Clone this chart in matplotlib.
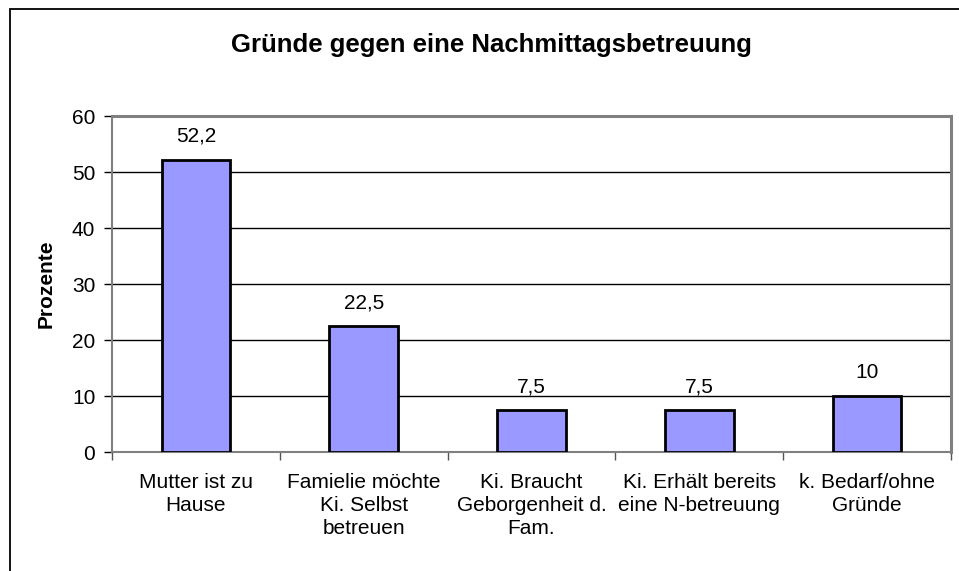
import matplotlib
matplotlib.use("Agg")
import matplotlib.pyplot as plt
from matplotlib.patches import Rectangle
import numpy as np

categories = ["Mutter ist zu\nHause", "Famielie möchte\nKi. Selbst\nbetreuen",
              "Ki. Braucht\nGeborgenheit d.\nFam.", "Ki. Erhält bereits\neine N-betreuung",
              "k. Bedarf/ohne\nGründe"]
values = [52.2, 22.5, 7.5, 7.5, 10]
value_labels = ["52,2", "22,5", "7,5", "7,5", "10"]
yticks = [0, 10, 20, 30, 40, 50, 60]
title = "Gründe gegen eine Nachmittagsbetreuung"
ylabel = "Prozente"

plt.rcParams['font.family'] = ['Liberation Sans', 'DejaVu Sans']

W, H = 959, 571
fig = plt.figure(figsize=(W / 100, H / 100), dpi=100)
fig.patch.set_facecolor("white")

# outer chart border (extends off right/bottom edge)
fig.patches.append(Rectangle((10 / W, -0.1), 1.2, (H - 9) / H + 0.1,
                             transform=fig.transFigure, fill=False,
                             edgecolor="black", linewidth=1.3, zorder=0))

left, right, top, bottom = 112, 951, 116, 452
ax = fig.add_axes([left / W, 1 - bottom / H, (right - left) / W, (bottom - top) / H])

FS = 15
x = np.arange(len(values))
ax.bar(x, values, width=0.41, color="#9999FF", edgecolor="black", linewidth=2, zorder=3)
ax.set_xlim(-0.5, len(values) - 0.5)
ax.set_ylim(0, 60)
ax.set_yticks(yticks)
ax.set_yticklabels([str(t) for t in yticks], fontsize=FS)
ax.yaxis.grid(True, color="black", linewidth=1, zorder=1)
ax.set_axisbelow(True)

for xi, v, lab in zip(x, values, value_labels):
    ax.annotate(lab, (xi, v), xytext=(0, 10), textcoords="offset points",
                ha="center", va="bottom", fontsize=FS)

# category ticks at boundaries
ax.set_xticks(np.arange(-0.5, len(values) + 0.5, 1.0))
ax.set_xticklabels([])
ax.tick_params(axis="x", length=6, width=1, color="#555555", direction="out")
ax.tick_params(axis="y", length=6, width=1, color="black", direction="out", pad=6)
for xi, c in zip(x, categories):
    ax.text(xi, -0.062, c, transform=ax.get_xaxis_transform(), ha="center", va="top",
            fontsize=FS, linespacing=1.27)

for s in ["top", "right"]:
    ax.spines[s].set_color("#808080")
    ax.spines[s].set_linewidth(2.2)
ax.spines["left"].set_color("#808080")
ax.spines["left"].set_linewidth(1.5)
ax.spines["bottom"].set_color("#808080")
ax.spines["bottom"].set_linewidth(1.5)

ax.set_ylabel(ylabel, fontsize=FS, fontweight="bold", labelpad=12)
fig.text(491 / W, 1 - 45 / H, title, ha="center", va="center", fontsize=18.5, fontweight="bold")

fig.savefig("out.png", dpi=100)
